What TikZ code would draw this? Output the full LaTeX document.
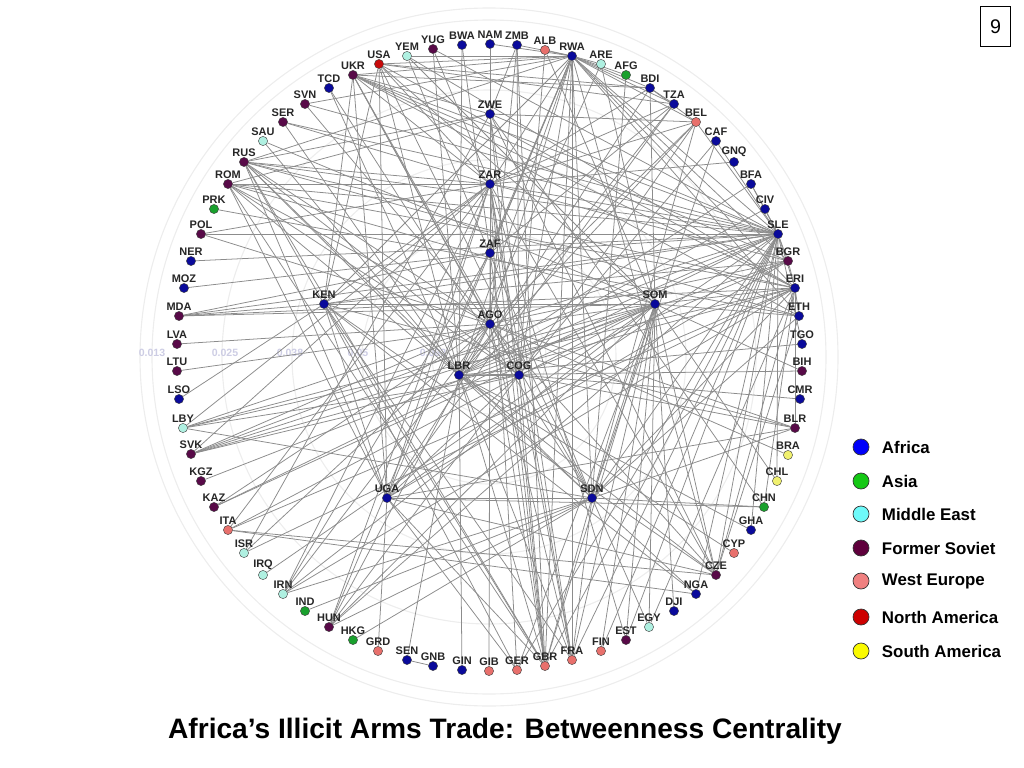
\documentclass[tikz,border=0pt]{standalone}
\usepackage{fontspec}
\setmainfont{Liberation Sans}
\pgfdeclarelayer{background}
\pgfsetlayers{background,main}

\definecolor{cafr}{RGB}{10,10,155}
\definecolor{casia}{RGB}{25,160,45}
\definecolor{cmid}{RGB}{175,240,225}
\definecolor{csov}{RGB}{88,10,72}
\definecolor{cweu}{RGB}{232,112,108}
\definecolor{cnam}{RGB}{200,10,10}
\definecolor{csam}{RGB}{240,240,110}
\definecolor{axiscol}{RGB}{205,205,228}

\begin{document}
\begin{tikzpicture}[
    x=0.025cm, y=-0.025cm,
    country/.style={circle, draw=black!75, line width=0.3pt, minimum size=2.3mm, inner sep=0pt, label distance=1pt},
    africa/.style={country, fill=cafr},
    asia/.style={country, fill=casia},
    mideast/.style={country, fill=cmid},
    soviet/.style={country, fill=csov},
    westeu/.style={country, fill=cweu},
    northam/.style={country, fill=cnam},
    southam/.style={country, fill=csam},
    lbl/.style={font=\bfseries\fontsize{7.8}{9}\selectfont, text=black!85, inner sep=0.3pt},
    link/.style={draw=black!45, line width=0.55pt},
    ring/.style={draw=black!7, line width=0.8pt},
    tick/.style={text=axiscol, font=\bfseries\fontsize{7.5}{9}\selectfont},
    legdot/.style={circle, draw=black!80, line width=0.5pt, minimum size=4mm, inner sep=0pt},
    legtext/.style={anchor=west, font=\bfseries\fontsize{12}{14}\selectfont}
]
    \useasboundingbox (0,0) rectangle (1024,768);

    % Countries by region
    \foreach \n/\x/\y in {BWA/462/45, NAM/490/44, ZMB/517/45, RWA/572/56, BDI/650/88, TZA/674/104,
        CAF/716/141, GNQ/734/162, BFA/751/184, CIV/765/209, SLE/778/234, ERI/795/288, ETH/799/316,
        TGO/802/344, CMR/800/399, GHA/751/530, NGA/696/594, DJI/674/611, GIN/462/670, GNB/433/666,
        SEN/407/660, LSO/179/399, MOZ/184/288, NER/191/261, TCD/329/88, ZWE/490/114, ZAR/490/184,
        ZAF/490/253, AGO/490/324, KEN/324/304, SOM/655/304, LBR/459/375, COG/519/375, UGA/387/498,
        SDN/592/498}
        \node[africa, label={[lbl]above:\n}] (\n) at (\x,\y) {};
    \foreach \n/\x/\y in {AFG/626/75, PRK/214/209, IND/305/611, HKG/353/640, CHN/764/507}
        \node[asia, label={[lbl]above:\n}] (\n) at (\x,\y) {};
    \foreach \n/\x/\y in {YEM/407/56, ARE/601/64, SAU/263/141, LBY/183/428, ISR/244/553,
        IRQ/263/575, IRN/283/594, EGY/649/627}
        \node[mideast, label={[lbl]above:\n}] (\n) at (\x,\y) {};
    \foreach \n/\x/\y in {YUG/433/49, UKR/353/75, SVN/305/104, SER/283/122, RUS/244/162,
        ROM/228/184, POL/201/234, MDA/179/316, LVA/177/344, LTU/177/371, SVK/191/454,
        KGZ/201/481, KAZ/214/507, HUN/329/627, EST/626/640, CZE/716/575, BLR/795/428,
        BIH/802/371, BGR/788/261}
        \node[soviet, label={[lbl]above:\n}] (\n) at (\x,\y) {};
    \foreach \n/\x/\y in {ALB/545/50, BEL/696/122, ITA/228/530, GRD/378/651, GIB/489/671,
        GER/517/670, GBR/545/666, FRA/572/660, FIN/601/651, CYP/734/553}
        \node[westeu, label={[lbl]above:\n}] (\n) at (\x,\y) {};
    \node[northam, label={[lbl]above:USA}] (USA) at (379,64) {};
    \foreach \n/\x/\y in {CHL/777/481, BRA/788/455}
        \node[southam, label={[lbl]above:\n}] (\n) at (\x,\y) {};

    \begin{pgfonlayer}{background}
        % Centrality rings
        \foreach \r in {57,127,197,267,337}
            \draw[ring] (489,357) circle [radius=\r];
        \draw[ring] (489,357) circle [radius=349];
        \node[tick] (t1) at (152,353) {0.013};
        \node[tick] (t2) at (225,353) {0.025};
        \node[tick] (t3) at (290,353) {0.038};
        \node[tick] (t4) at (358,353) {0.05};
        \node[tick] (t5) at (433,353) {0.063};

        % Trade links
        \foreach \a/\b in {RWA/UKR, RWA/USA, RWA/YEM, RWA/ZMB, RWA/NAM, RWA/ARE, RWA/BDI, RWA/TZA,
            RWA/ZAR, RWA/ZAF, RWA/AGO, RWA/KEN, RWA/LBR, RWA/COG, RWA/SDN, RWA/UGA, RWA/GBR,
            RWA/FRA, RWA/SLE, RWA/BGR, RWA/ERI, RWA/ETH, RWA/BEL, RWA/CZE, RWA/AFG, RWA/HUN,
            RWA/RUS, RWA/SVN,
            USA/ZAR, USA/KEN, USA/SDN, USA/UGA, USA/SOM, USA/LBR, USA/BDI, USA/TZA, USA/ERI,
            UKR/ZWE, UKR/ZAR, UKR/SLE, UKR/COG, UKR/AGO, UKR/SDN, UKR/KEN, UKR/UGA, UKR/BDI,
            UKR/ERI, UKR/ETH, UKR/BGR,
            YEM/SOM, YEM/ERI, YEM/SDN, YUG/LBR, YUG/SLE, YUG/ZAR, BWA/ZAF, BWA/LBR, NAM/ZWE,
            NAM/AGO, ZMB/ZWE, ZMB/COG, ZMB/AGO, ZMB/GBR, ALB/COG, ALB/RWA, ALB/SOM, ARE/SOM,
            ARE/LBR, AFG/SDN, BDI/TZA, BDI/ZAR, BDI/SOM, BDI/UGA, BDI/BEL, TZA/UGA, TZA/ZAR,
            TZA/LBR, TZA/ZAF, BEL/ZAR, BEL/LBR, BEL/SLE, BEL/SDN, BEL/COG, BEL/AGO, BEL/ZWE,
            CAF/SDN, CAF/COG, CAF/SLE, GNQ/ZAR, BFA/LBR, BFA/SLE, BFA/CIV, CIV/LBR, CIV/SLE}
            \draw[link] (\a) -- (\b);
        \foreach \a/\b in {SLE/LBR, SLE/ZWE, SLE/KEN, SLE/AGO, SLE/ZAR, SLE/ZAF, SLE/RUS,
            SLE/ROM, SLE/SER, SLE/SVN, SLE/POL, SLE/NER, SLE/UGA, SLE/SDN, SLE/GBR, SLE/FRA,
            SLE/GER, SLE/CZE, SLE/BGR, SLE/ERI, SLE/HUN, SLE/KAZ, SLE/SVK, SLE/MDA, SLE/EST,
            SLE/FIN, SLE/GHA, SLE/NGA, SLE/TGO, SLE/CHL,
            BGR/ZAR, BGR/ERI, BGR/AGO, BGR/LBR, BGR/UGA, BGR/COG, BGR/KEN,
            ERI/SOM, ERI/SDN, ERI/ETH, ERI/RUS, ERI/MDA, ERI/SVK, ERI/ISR, ERI/IRN, ERI/ITA,
            ERI/CZE, ERI/BLR, ERI/CHN, ERI/EGY, ERI/LBY,
            ETH/SOM, ETH/RUS, ETH/PRK, ETH/CZE, ETH/SDN, TGO/LBR, BIH/LBR, BIH/SOM, CMR/COG,
            BLR/SDN, BLR/KEN, BLR/COG, BLR/AGO, BLR/UGA, BRA/AGO, CHL/SOM, CHN/UGA, CHN/SDN,
            CHN/ZWE, GHA/LBR, CYP/LBR}
            \draw[link] (\a) -- (\b);
        \foreach \a/\b in {CZE/ZWE, CZE/ZAR, CZE/AGO, CZE/LBR, CZE/KEN, CZE/UGA, CZE/SOM,
            CZE/ITA, NGA/LBR, NGA/KEN, DJI/SOM, EGY/SOM, EGY/SDN, EST/ZAR, EST/SOM, FIN/SOM,
            FRA/COG, FRA/SDN, FRA/AGO, FRA/SOM, FRA/ZAR, FRA/LBR, FRA/KEN, FRA/ZWE,
            GBR/ZAR, GBR/ZAF, GBR/AGO, GBR/LBR, GBR/SOM, GBR/UGA, GBR/SDN, GBR/KEN, GBR/COG,
            GBR/ROM, GBR/ZWE, GBR/RUS, GER/UGA, GER/ZAR, GER/KEN, GER/SOM, GIB/ZAF, GIN/LBR,
            SEN/GNB, SEN/LBR, GRD/UGA, HKG/SDN, HUN/ZAR, HUN/AGO, HUN/SDN, HUN/SOM, HUN/COG,
            IND/SDN, IRN/SOM, IRN/SDN, IRN/ZAR, IRN/ZAF, IRN/AGO, IRQ/SOM, ISR/AGO, ISR/ZWE,
            ITA/SOM, ITA/ZAR, ITA/NGA, KAZ/SOM, KAZ/AGO, KGZ/SOM, SVK/SOM, SVK/AGO, SVK/ZAR,
            SVK/COG, LBY/AGO, LBY/SOM, LBY/COG, LBY/ZAR, LBY/SDN, LSO/KEN, LTU/SOM, LVA/AGO,
            MDA/KEN, MDA/ZAF, MDA/SOM, MOZ/ZAF, POL/ZAR, POL/AGO,
            ROM/ZAR, ROM/AGO, ROM/UGA, ROM/SOM, ROM/COG, ROM/LBR, ROM/ZWE, ROM/ERI,
            RUS/ZWE, RUS/ZAR, RUS/AGO, RUS/SDN, RUS/UGA, RUS/LBR, RUS/COG, RUS/KEN,
            SAU/SOM, SAU/LBR, SER/ZAR, SER/LBR, SVN/AGO, TCD/LBR, TCD/SDN,
            ZWE/ZAR, ZAR/ZAF, ZAF/AGO, AGO/LBR, AGO/COG, UGA/SDN, UGA/ZAR, KEN/SOM, KEN/UGA,
            SDN/SOM, LBR/COG, ZAR/COG, UGA/COG, KEN/ZAR}
            \draw[link] (\a) -- (\b);
    \end{pgfonlayer}

    % Legend
    \node[legdot, fill={rgb,255:red,0;green,0;blue,250}] (lgAfr) at (861,447) {};
    \node[legdot, fill={rgb,255:red,20;green,200;blue,20}] (lgAsia) at (861,481) {};
    \node[legdot, fill={rgb,255:red,110;green,250;blue,250}] (lgMid) at (861,514) {};
    \node[legdot, fill={rgb,255:red,95;green,0;blue,60}] (lgSov) at (861,548) {};
    \node[legdot, fill={rgb,255:red,240;green,128;blue,128}] (lgWeu) at (861,581) {};
    \node[legdot, fill={rgb,255:red,205;green,0;blue,0}] (lgNam) at (861,617) {};
    \node[legdot, fill={rgb,255:red,250;green,250;blue,0}] (lgSam) at (861,651) {};
    \node[legtext] at (877,447) {Africa};
    \node[legtext] at (877,481) {Asia};
    \node[legtext] at (877,514) {Middle East};
    \node[legtext] at (877,548) {Former Soviet};
    \node[legtext] at (877,581) {West Europe};
    \node[legtext] at (877,617) {North America};
    \node[legtext] at (877,651) {South America};

    % Slide number and title
    \node[draw, line width=0.6pt, minimum width=0.73cm, minimum height=0.98cm,
        font=\fontsize{14}{16}\selectfont] (page) at (995.5,26.5) {9};
    \node[font=\bfseries\fontsize{20}{24}\selectfont] (title) at (505,731)
        {Africa’s Illicit Arms Trade: Betweenness Centrality};
\end{tikzpicture}
\end{document}
